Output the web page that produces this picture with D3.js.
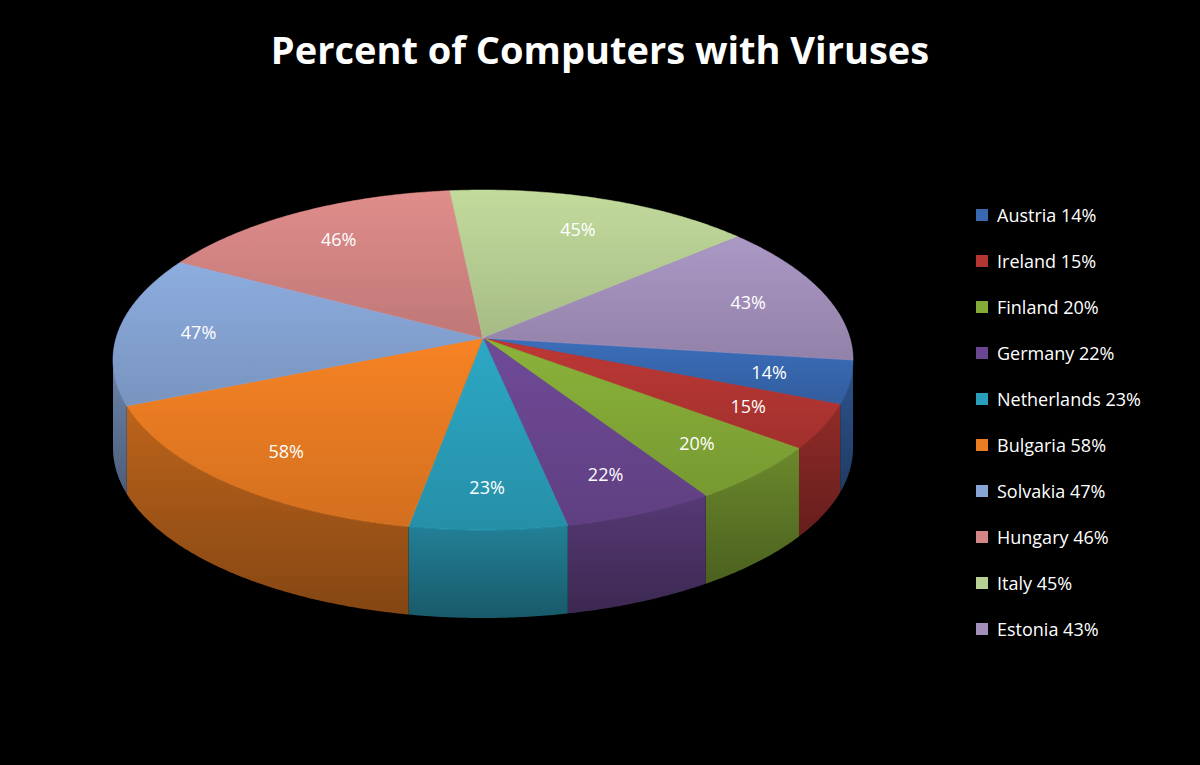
<!DOCTYPE html>
<html><head><meta charset="utf-8">
<script src="https://cdn.jsdelivr.net/npm/d3@7"></script>
<style>body{margin:0;background:#000}</style></head>
<body><svg id="c" width="1200" height="765"></svg>
<script>
const categories=["Austria","Ireland","Finland","Germany","Netherlands","Bulgaria","Solvakia","Hungary","Italy","Estonia"];
const values=[14,15,20,22,23,58,47,46,45,43];
const colors=["#3868b0","#b33532","#84aa37","#6a4690","#2a9fbb","#ea7c22","#86a4d4","#d48684","#b8d094","#a290bb"];

const svg=d3.select("#c");
svg.append("rect").attr("width",1200).attr("height",765).attr("fill","#000");
svg.append("text").attr("x",600).attr("y",64).attr("text-anchor","middle")
 .attr("fill","#fff").attr("font-family","Open Sans, Liberation Sans, sans-serif")
 .attr("font-weight","bold").attr("font-size",38).text("Percent of Computers with Viruses");

const ax=483,ay=338,cx=483,cy=360,rx=370,ry=170,depth=88;
const pie=d3.pie().sort(null).startAngle(0).endAngle(2*Math.PI)(values);
const pt=(t,dy=0)=>[cx+rx*Math.cos(t),cy+ry*Math.sin(t)+dy];
function arcPts(a,b,dy=0){const n=Math.max(2,Math.ceil((b-a)/0.01));return d3.range(n+1).map(i=>pt(a+(b-a)*i/n,dy));}
const line=d3.line();
const defs=svg.append("defs");
pie.forEach((d,i)=>{
 const g=defs.append("linearGradient").attr("id","g"+i).attr("x1",0).attr("y1",0).attr("x2",0).attr("y2",1);
 g.append("stop").attr("offset",0).attr("stop-color",d3.color(colors[i]).brighter(0.15));
 g.append("stop").attr("offset",1).attr("stop-color",d3.color(colors[i]).darker(0.3));
 const s=defs.append("linearGradient").attr("id","s"+i).attr("x1",0).attr("y1",0).attr("x2",0).attr("y2",1);
 s.append("stop").attr("offset",0).attr("stop-color",d3.color(colors[i]).darker(0.6));
 s.append("stop").attr("offset",1).attr("stop-color",d3.color(colors[i]).darker(1.6));
});
pie.forEach((d,i)=>{
 const a=Math.max(d.startAngle,0),b=Math.min(d.endAngle,Math.PI);
 if(b<=a)return;
 const top=arcPts(a,b),bot=arcPts(a,b,depth).reverse();
 svg.append("path").attr("d",line(top.concat(bot))+"Z").attr("fill","url(#s"+i+")");
});
pie.forEach((d,i)=>{
 const pts=[[ax,ay]].concat(arcPts(d.startAngle,d.endAngle));
 svg.append("path").attr("d",line(pts)+"Z").attr("fill","url(#g"+i+")")
  .attr("stroke",d3.color(colors[i]).brighter(0.3)).attr("stroke-width",0.5);
});
pie.forEach((d,i)=>{
 const m=(d.startAngle+d.endAngle)/2;
 const x=ax+(rx*Math.cos(m))*0.78,y=ay+(cy-ay+ry*Math.sin(m))*0.78;
 svg.append("text").attr("x",x).attr("y",y+6).attr("text-anchor","middle").attr("fill","#fff")
  .attr("font-family","Open Sans, Liberation Sans, sans-serif").attr("font-size",18).text(values[i]+"%");
});
const ly=d3.scaleLinear().domain([0,9]).range([215,629]);
categories.forEach((c,i)=>{
 svg.append("rect").attr("x",976).attr("y",ly(i)-6).attr("width",12).attr("height",12).attr("fill",colors[i]);
 svg.append("text").attr("x",997).attr("y",ly(i)+7).attr("fill","#fff")
  .attr("font-family","Open Sans, Liberation Sans, sans-serif").attr("font-size",18).text(c+" "+values[i]+"%");
});
</script></body></html>
